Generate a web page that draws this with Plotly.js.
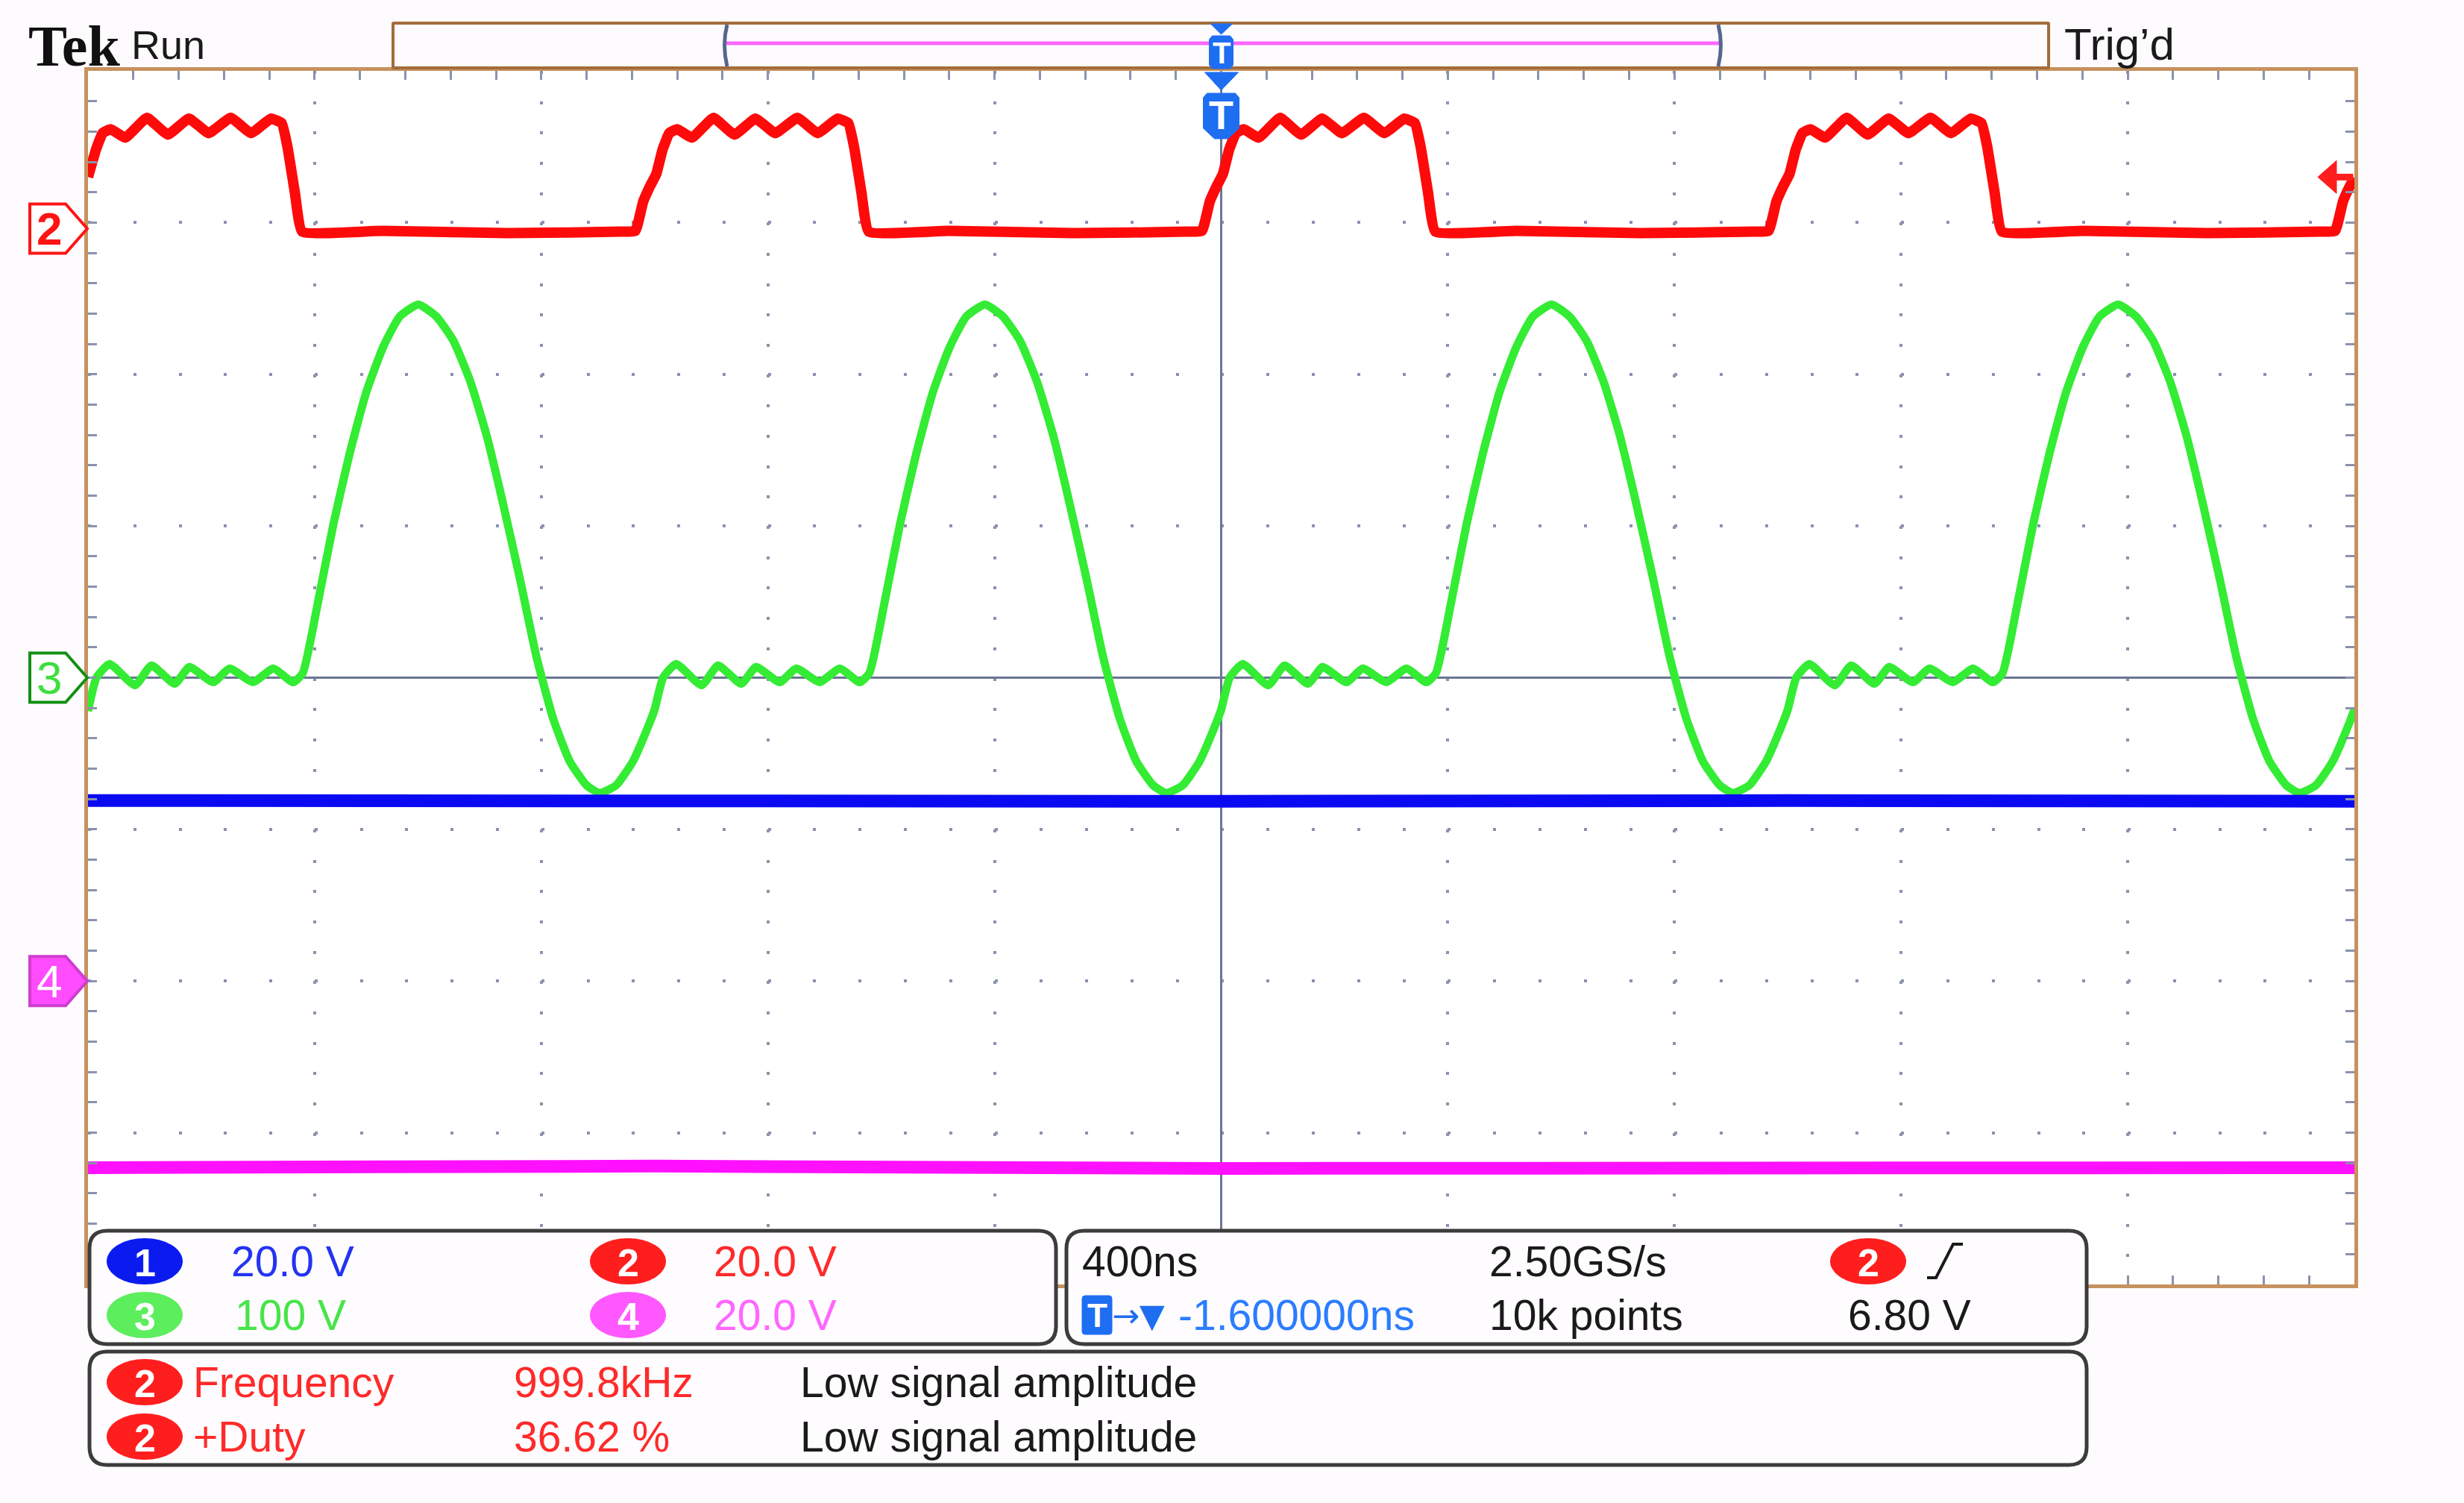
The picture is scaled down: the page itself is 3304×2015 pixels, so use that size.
<!DOCTYPE html>
<html>
<head>
<meta charset="utf-8">
<script src="https://cdn.plot.ly/plotly-3.0.1.min.js"></script>
<style>
  html, body { margin: 0; padding: 0; background: #fefbfe; }
  #scope { width: 3304px; height: 2015px; }
</style>
</head>
<body>
<div id="scope"></div>
<script>
// ---- waveform readings (time in ns, 400 ns/div, trigger at 0) ----
// CH2 red, 20 V/div
const ch2Time = [
  -2000, -1986, -1974, -1960, -1934, -1896, -1859, -1822, -1787, -1748, -1712, -1677, -1658, -1648, -1635, -1622, -1480, -1260, -1060,
  -1034, -1020, -1008, -997, -986, -974, -960, -934, -896, -859, -822, -787, -748, -712, -677, -658, -648, -635, -622, -480, -260, -60,
  -34, -20, -8, 3, 14, 26, 40, 66, 104, 141, 178, 213, 252, 288, 323, 342, 352, 365, 378, 520, 740, 940,
  966, 980, 992, 1003, 1014, 1026, 1040, 1066, 1104, 1141, 1178, 1213, 1252, 1288, 1323, 1342, 1352, 1365, 1378, 1520, 1740, 1940,
  1966, 1980, 1992, 2000
];
const ch2Volt = [
  6.8, 10.4, 12.6, 13.1, 12.0, 14.6, 12.4, 14.5, 12.6, 14.6, 12.6, 14.5, 13.9, 10.8, 4.8, -0.4, -0.3, -0.6, -0.4,
  -0.3, 3.6, 5.6, 7.2, 10.4, 12.6, 13.1, 12.0, 14.6, 12.4, 14.5, 12.6, 14.6, 12.6, 14.5, 13.9, 10.8, 4.8, -0.4, -0.3, -0.6, -0.4,
  -0.3, 3.6, 5.6, 7.2, 10.4, 12.6, 13.1, 12.0, 14.6, 12.4, 14.5, 12.6, 14.6, 12.6, 14.5, 13.9, 10.8, 4.8, -0.4, -0.3, -0.6, -0.4,
  -0.3, 3.6, 5.6, 7.2, 10.4, 12.6, 13.1, 12.0, 14.6, 12.4, 14.5, 12.6, 14.6, 12.6, 14.5, 13.9, 10.8, 4.8, -0.4, -0.3, -0.6, -0.4,
  -0.3, 3.6, 5.6, 6.7
];

// CH3 green, 100 V/div, ground at centre
const ch3Time = [
  -2000, -1985, -1962, -1917, -1888, -1847, -1821, -1779, -1750, -1709, -1673, -1638, -1621, -1595, -1567, -1538, -1509,
  -1479, -1450, -1417, -1385, -1355, -1325, -1296, -1267, -1237, -1208, -1179, -1150, -1120, -1097, -1068, -1038, -1009,
  -1000, -985, -962, -917, -888, -847, -821, -779, -750, -709, -673, -638, -621, -595, -567, -538, -509,
  -479, -450, -417, -385, -355, -325, -296, -267, -237, -208, -179, -150, -120, -97, -68, -38, -9,
  0, 15, 38, 83, 112, 153, 179, 221, 250, 291, 327, 362, 379, 405, 433, 462, 491,
  521, 550, 583, 615, 645, 675, 704, 733, 763, 792, 821, 850, 880, 903, 932, 962, 991,
  1000, 1015, 1038, 1083, 1112, 1153, 1179, 1221, 1250, 1291, 1327, 1362, 1379, 1405, 1433, 1462, 1491,
  1521, 1550, 1583, 1615, 1645, 1675, 1704, 1733, 1763, 1792, 1821, 1850, 1880, 1903, 1932, 1962, 1991,
  2000
];
const ch3Volt = [
  -22, 0, 9, -5, 8, -4, 7, -3, 6, -3, 6, -3, 3, 48, 101, 148, 188,
  218, 238, 246, 238, 222, 195, 159, 114, 64, 13, -27, -55, -71, -76, -71, -55, -30,
  -21, 0, 9, -5, 8, -4, 7, -3, 6, -3, 6, -3, 3, 48, 101, 148, 188,
  218, 238, 246, 238, 222, 195, 159, 114, 64, 13, -27, -55, -71, -76, -71, -55, -30,
  -21, 0, 9, -5, 8, -4, 7, -3, 6, -3, 6, -3, 3, 48, 101, 148, 188,
  218, 238, 246, 238, 222, 195, 159, 114, 64, 13, -27, -55, -71, -76, -71, -55, -30,
  -21, 0, 9, -5, 8, -4, 7, -3, 6, -3, 6, -3, 3, 48, 101, 148, 188,
  218, 238, 246, 238, 222, 195, 159, 114, 64, 13, -27, -55, -71, -76, -71, -55, -30,
  -21
];

// CH1 blue, 20 V/div
const ch1Time = [-2000, -1000, 0, 1000, 2000];
const ch1Volt = [-16.2, -16.4, -16.3, -16.2, -16.3];

// CH4 magenta, 20 V/div
const ch4Time = [-2000, -1000, 0, 1000, 2000];
const ch4Volt = [-24.6, -24.4, -24.7, -24.5, -24.6];

const voltsPerDiv = [20, 20, 100, 20];     // ch1..ch4
const groundDiv = [0, 2.96, 0, -2];        // ch1..ch4, divisions from centre
const timePerDiv = 400;
const triggerLevel = 6.80;

// readouts
const scaleText = ['20.0 V', '20.0 V', '100 V', '20.0 V'];
const horizText = ['400ns', '2.50GS/s', '10k points'];
const trigDelayText = '-1.600000ns';
const trigLevelText = '6.80 V';
const measNames = ['Frequency', '+Duty'];
const measValues = ['999.8kHz', '36.62 %'];
const measStatus = ['Low signal amplitude', 'Low signal amplitude'];

// ---- look ----
const FONT = '"Liberation Sans", Arial, sans-serif';
const FS = 57;
const GRID = '#8a92ad';
const traceColor = ['#0a0af2', '#ff0a0a', '#33ec33', '#ff10ff'];
const badgeColor = ['#0b1bf0', '#ff1e1e', '#5cee5c', '#ff58ff'];
const textColor = ['#2433f2', '#ff2a2a', '#48e448', '#ff66ff'];
const TBLUE = '#1e6ef2';
// CH3 lives on the main y axis, the others on hidden overlays
const chAxis = ['y2', 'y3', 'y', 'y4'];

const L = 118, T = 95, W = 3039, H = 1627;
const px = x => (x - L) / W;
const py = y => (T + H - y) / H;
const P = (x, y) => x + ',' + (-y);

function chRange(i) {
  return [(-4 - groundDiv[i]) * voltsPerDiv[i], (4 - groundDiv[i]) * voltsPerDiv[i]];
}

const shapes = [];
const annotations = [];

function pagePath(d, fill, line, width) {
  shapes.push({
    type: 'path', xref: 'paper', yref: 'paper',
    xsizemode: 'pixel', ysizemode: 'pixel', xanchor: px(0), yanchor: py(0),
    path: d, fillcolor: fill || 'rgba(0,0,0,0)',
    line: {color: line || 'rgba(0,0,0,0)', width: width || 0}, layer: 'above'
  });
}

function roundRect(x0, y0, x1, y1, r) {
  return 'M' + P(x0 + r, y0) + ' L' + P(x1 - r, y0) + ' Q' + P(x1, y0) + ' ' + P(x1, y0 + r) +
    ' L' + P(x1, y1 - r) + ' Q' + P(x1, y1) + ' ' + P(x1 - r, y1) +
    ' L' + P(x0 + r, y1) + ' Q' + P(x0, y1) + ' ' + P(x0, y1 - r) +
    ' L' + P(x0, y0 + r) + ' Q' + P(x0, y0) + ' ' + P(x0 + r, y0) + ' Z';
}

function text(str, x, y, color, size, opts) {
  const o = opts || {};
  annotations.push({
    xref: 'paper', yref: o.yref || 'paper', x: px(x), y: o.yref ? o.yval : py(y),
    text: str, showarrow: false, xanchor: o.anchor || 'left', yanchor: 'middle',
    font: {family: o.family || FONT, size: size, color: color, weight: o.weight || 'normal'}
  });
}

function badge(n, cx, cy) {
  shapes.push({
    type: 'circle', xref: 'paper', yref: 'paper',
    x0: px(cx - 51), x1: px(cx + 51), y0: py(cy + 31), y1: py(cy - 31),
    fillcolor: badgeColor[n - 1], line: {width: 0}, layer: 'above'
  });
  text(String(n), cx, cy + 2, '#ffffff', 52, {anchor: 'center', weight: 'bold'});
}

function groundMarker(n, fill, line, digitColor, weight) {
  const ax = chAxis[n - 1];
  shapes.push({
    type: 'path', xref: 'paper', yref: ax,
    xsizemode: 'pixel', ysizemode: 'pixel', xanchor: px(0), yanchor: 0,
    path: 'M40,33 L88,33 L117,0 L88,-33 L40,-33 Z',
    fillcolor: fill, line: {color: line, width: 4}, layer: 'above'
  });
  text(String(n), 66, 0, digitColor, 62, {anchor: 'center', yref: ax, yval: 0, weight: weight});
}

// ---- traces ----
const traces = [
  {x: ch1Time, y: ch1Volt, yaxis: chAxis[0], mode: 'lines', line: {color: traceColor[0], width: 17}, hoverinfo: 'skip'},
  {x: ch4Time, y: ch4Volt, yaxis: chAxis[3], mode: 'lines', line: {color: traceColor[3], width: 17}, hoverinfo: 'skip'},
  {x: ch2Time, y: ch2Volt, yaxis: chAxis[1], mode: 'lines', line: {color: traceColor[1], width: 14, shape: 'spline', smoothing: 0.35}, hoverinfo: 'skip'},
  {x: ch3Time, y: ch3Volt, yaxis: chAxis[2], mode: 'lines', line: {color: traceColor[2], width: 11, shape: 'spline', smoothing: 0.5}, hoverinfo: 'skip'}
];

// ---- header ----
text('Tek', 36, 62, '#111111', 78, {family: '"Liberation Serif", "DejaVu Serif", serif', weight: 'bold'});
text('Run', 174, 60, '#1a1a1a', 54);
text('Trig\u2019d', 2766, 60, '#1a1a1a', 60);

// record bar
pagePath(roundRect(527, 31, 2747, 91, 1), '#fefbfe', '#a36c3b', 4);
pagePath('M' + P(972, 58) + ' L' + P(2307, 58), null, '#ff66ff', 5);
pagePath('M' + P(975, 33) + ' Q' + P(968, 60) + ' ' + P(975, 89), null, '#56668e', 5);
pagePath('M' + P(2304, 33) + ' Q' + P(2311, 60) + ' ' + P(2304, 89), null, '#56668e', 5);

// trigger position markers (anchored at t = 0)
function trigShape(d) {
  shapes.push({
    type: 'path', xref: 'x', yref: 'paper',
    xsizemode: 'pixel', ysizemode: 'pixel', xanchor: 0, yanchor: py(0),
    path: d, fillcolor: TBLUE, line: {color: TBLUE, width: 1}, layer: 'above'
  });
}
trigShape('M-14,-32 L15,-32 L0,-46 Z');
trigShape('M-12,-48 L12,-48 L16,-53 L16,-87 L12,-92 L-12,-92 L-16,-87 L-16,-53 Z');
trigShape('M-22,-97 L23,-97 L0,-121 Z');
trigShape('M-19,-125 L19,-125 L24,-131 L24,-172 L9,-186 L-9,-186 L-24,-172 L-24,-131 Z');
annotations.push({xref: 'x', yref: 'paper', x: 0, y: py(71), text: 'T', showarrow: false, yanchor: 'middle',
  font: {family: FONT, size: 40, color: '#ffffff', weight: 'bold'}});
annotations.push({xref: 'x', yref: 'paper', x: 0, y: py(154), text: 'T', showarrow: false, yanchor: 'middle',
  font: {family: FONT, size: 54, color: '#ffffff', weight: 'bold'}});

// trigger level arrow on the right (CH2 level)
shapes.push({
  type: 'path', xref: 'paper', yref: chAxis[1],
  xsizemode: 'pixel', ysizemode: 'pixel', xanchor: 1, yanchor: triggerLevel,
  path: 'M-49,0 L-24,22 L-24,4 L-2,4 L-2,-4 L-24,-4 L-24,-22 Z',
  fillcolor: '#ff1e1e', line: {color: '#ff1e1e', width: 1}, layer: 'above'
});

// ground markers
groundMarker(2, '#ffffff', '#ff1414', '#ff1414', 'bold');
groundMarker(3, '#ffffff', '#129012', '#3ede3e', 'normal');
groundMarker(4, '#ff4cff', '#cf3dcf', '#ffffff', 'normal');

// ---- readout boxes ----
pagePath(roundRect(120, 1650, 1416, 1802, 24), '#fefcfe', '#3c3c3c', 5);
pagePath(roundRect(1430, 1650, 2798, 1802, 24), '#fefcfe', '#3c3c3c', 5);
pagePath(roundRect(120, 1812, 2798, 1964, 24), '#fefcfe', '#3c3c3c', 5);

const row1 = 1691, row2 = 1763, row3 = 1853, row4 = 1926;

badge(1, 194, row1); text(scaleText[0], 308, row1, textColor[0], FS);
badge(2, 842, row1); text(scaleText[1], 955, row1, textColor[1], FS);
badge(3, 194, row2); text(scaleText[2], 313, row2, textColor[2], FS);
badge(4, 842, row2); text(scaleText[3], 955, row2, textColor[3], FS);

text(horizText[0], 1449, row1, '#1a1a1a', FS);
text(horizText[1], 1995, row1, '#1a1a1a', FS);
badge(2, 2505, row1);
pagePath('M' + P(2584, 1713) + ' L' + P(2596, 1713) + ' L' + P(2619, 1668) + ' L' + P(2632, 1668), null, '#1a1a1a', 4);

pagePath(roundRect(1451, 1737, 1491, 1789, 4), TBLUE, TBLUE, 1);
text('T', 1471, row2, '#ffffff', 44, {anchor: 'center', weight: 'bold'});
text('\u2192\u25BC', 1489, row2, TBLUE, 44, {family: '"DejaVu Sans", sans-serif'});
text(trigDelayText, 1578, row2, '#2b7cff', FS);
text(horizText[2], 1995, row2, '#1a1a1a', FS);
text(trigLevelText, 2476, row2, '#1a1a1a', FS);

badge(2, 194, row3); text(measNames[0], 257, row3, textColor[1], FS);
text(measValues[0], 687, row3, textColor[1], FS);
text(measStatus[0], 1071, row3, '#1a1a1a', FS);
badge(2, 194, row4); text(measNames[1], 257, row4, textColor[1], FS);
text(measValues[1], 687, row4, textColor[1], FS);
text(measStatus[1], 1071, row4, '#1a1a1a', FS);

// ---- axes ----
const xRange = [-5 * timePerDiv, 5 * timePerDiv];
const yMain = chRange(2);
const yDiv = voltsPerDiv[2];
const hidden = {visible: false, fixedrange: true, overlaying: 'y'};
const centreTicks = {
  showgrid: false, zeroline: false, showline: false, showticklabels: false,
  ticklen: 13, tickwidth: 3, tickcolor: GRID, fixedrange: true, anchor: 'free', position: 0.5
};

const layout = {
  width: 3304, height: 2015,
  margin: {l: L, r: 3304 - L - W, t: T, b: 2015 - T - H, pad: 0},
  paper_bgcolor: '#fefbfe', plot_bgcolor: '#ffffff',
  showlegend: false,
  xaxis: {
    range: xRange, dtick: timePerDiv, tick0: 0,
    showgrid: true, gridcolor: GRID, gridwidth: 4, griddash: '4px,36.675px',
    zeroline: true, zerolinecolor: '#6b7694', zerolinewidth: 3,
    showline: true, linecolor: '#c6925f', linewidth: 5, mirror: 'all',
    ticks: 'inside', ticklen: 12, tickwidth: 3, tickcolor: GRID,
    minor: {dtick: timePerDiv / 5, ticks: 'inside', ticklen: 12, tickwidth: 3, tickcolor: GRID, showgrid: false},
    showticklabels: false, fixedrange: true
  },
  yaxis: {
    range: yMain, dtick: yDiv, tick0: 0,
    showgrid: true, gridcolor: GRID, gridwidth: 4, griddash: '4px,56.78px',
    zeroline: true, zerolinecolor: '#6b7694', zerolinewidth: 3,
    showline: true, linecolor: '#c6925f', linewidth: 5, mirror: 'all',
    ticks: 'inside', ticklen: 12, tickwidth: 3, tickcolor: GRID,
    minor: {dtick: yDiv / 5, ticks: 'inside', ticklen: 12, tickwidth: 3, tickcolor: GRID, showgrid: false},
    showticklabels: false, fixedrange: true
  },
  yaxis2: Object.assign({range: chRange(0)}, hidden),
  yaxis3: Object.assign({range: chRange(1)}, hidden),
  yaxis4: Object.assign({range: chRange(3)}, hidden),
  xaxis2: Object.assign({overlaying: 'x', range: xRange, dtick: timePerDiv / 5, tick0: 0, ticks: 'inside'}, centreTicks),
  xaxis3: Object.assign({overlaying: 'x', range: xRange, dtick: timePerDiv / 5, tick0: 0, ticks: 'outside'}, centreTicks),
  yaxis5: Object.assign({overlaying: 'y', range: yMain, dtick: yDiv / 5, tick0: 0, ticks: 'inside'}, centreTicks),
  yaxis6: Object.assign({overlaying: 'y', range: yMain, dtick: yDiv / 5, tick0: 0, ticks: 'outside'}, centreTicks),
  shapes: shapes,
  annotations: annotations
};

Plotly.newPlot('scope', traces, layout, {displayModeBar: false, staticPlot: true});
</script>
</body>
</html>
